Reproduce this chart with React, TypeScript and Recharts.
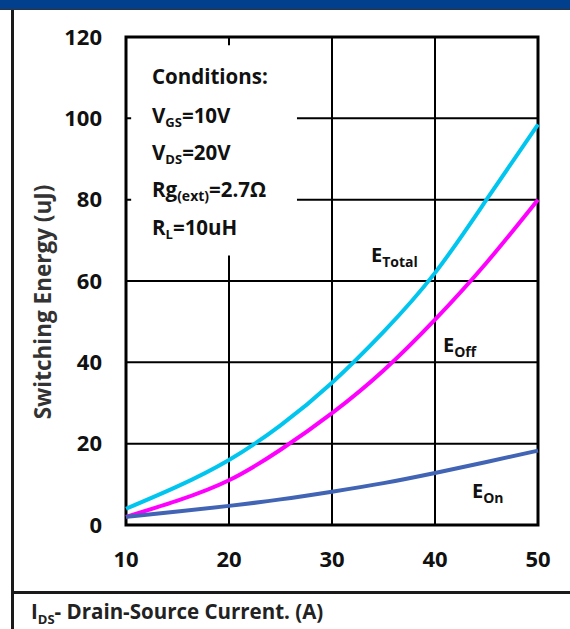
import React from 'react';
import { LineChart, Line, XAxis, YAxis, CartesianGrid, ReferenceArea } from 'recharts';

const currents = [10, 15, 20, 25, 30, 35, 40, 45, 50];
const eTotal = [4, 9.5, 16, 24.5, 35, 47.5, 62, 80, 98.5];
const eOff = [2, 6, 11, 18.5, 27.5, 38, 50.5, 64.5, 80];
const eOn = [2, 3.3, 4.7, 6.3, 8.2, 10.3, 12.8, 15.5, 18.3];
const xTicks = [10, 20, 30, 40, 50];
const yTicks = [0, 20, 40, 60, 80, 100, 120];

const data = currents.map((x, i) => ({ x, eTotal: eTotal[i], eOff: eOff[i], eOn: eOn[i] }));

const FONT = "'Open Sans', 'Noto Sans', sans-serif";

export default function App() {
  return (
    <div style={{ position: 'absolute', left: 0, top: 0, width: 570, height: 629, background: '#fff', overflow: 'hidden', fontFamily: FONT }}>
      <div style={{ position: 'absolute', left: 0, top: 0, width: 570, height: 9, background: '#02408E', borderBottom: '1px solid #333' }} />
      <div style={{ position: 'absolute', left: 11, top: 10, width: 3, height: 619, background: '#1a1a1a' }} />
      <div style={{ position: 'absolute', left: 11, top: 591, width: 559, height: 3, background: '#1a1a1a' }} />
      <div style={{ position: 'absolute', left: 0, top: 0 }}>
        <LineChart width={570} height={629} data={data} margin={{ top: 37, right: 32, bottom: 74, left: 0 }}>
          <CartesianGrid stroke="#000" strokeWidth={2} />
          <XAxis
            dataKey="x"
            type="number"
            domain={[10, 50]}
            ticks={xTicks}
            axisLine={false}
            tickLine={false}
            tickSize={0}
            tickMargin={26}
            height={30}
            tick={{ fill: '#111', fontSize: 22, fontWeight: 700, fontFamily: FONT }}
          />
          <YAxis
            type="number"
            domain={[0, 120]}
            ticks={yTicks}
            axisLine={false}
            tickLine={false}
            tickSize={0}
            tickMargin={24}
            width={126}
            tick={{ fill: '#111', fontSize: 22, fontWeight: 700, fontFamily: FONT }}
          />
          <ReferenceArea x1={10.5} x2={26.6} y1={66.3} y2={118} fill="#fff" fillOpacity={1} stroke="none" />
          <Line type="natural" dataKey="eTotal" stroke="#00C5EF" strokeWidth={4} dot={false} isAnimationActive={false} />
          <Line type="natural" dataKey="eOff" stroke="#FF00FF" strokeWidth={4} dot={false} isAnimationActive={false} />
          <Line type="natural" dataKey="eOn" stroke="#4164B4" strokeWidth={4} dot={false} isAnimationActive={false} />
          <ReferenceArea x1={10} x2={50} y1={0} y2={120} fill="none" stroke="#000" strokeWidth={3} />
        </LineChart>
      </div>
      <svg width={570} height={629} style={{ position: 'absolute', left: 0, top: 0, pointerEvents: 'none' }} fontFamily={FONT} fontWeight={700}>
        <g fill="#111" fontSize={20.5}>
          <text x={152} y={84}>Conditions:</text>
          <text x={152} y={123}>V<tspan fontSize={13} dy={4}>GS</tspan><tspan dy={-4}>=10V</tspan></text>
          <text x={152} y={160}>V<tspan fontSize={13} dy={4}>DS</tspan><tspan dy={-4}>=20V</tspan></text>
          <text x={152} y={197}>Rg<tspan fontSize={14} dy={4}>(ext)</tspan><tspan dy={-4}>=2.7Ω</tspan></text>
          <text x={152} y={235}>R<tspan fontSize={13} dy={4}>L</tspan><tspan dy={-4}>=10uH</tspan></text>
        </g>
        <g fill="#111">
          <text x={371} y={262} fontSize={20}>E<tspan fontSize={14} dy={5}>Total</tspan></text>
          <text x={443} y={352} fontSize={20}>E<tspan fontSize={14} dy={5}>Off</tspan></text>
          <text x={472} y={498} fontSize={20}>E<tspan fontSize={14} dy={5}>On</tspan></text>
        </g>
        <text transform="rotate(-90)" x={-302} y={51} textAnchor="middle" fontSize={22.5} fill="#333">Switching Energy (uJ)</text>
        <text x={31} y={619} fontSize={20.5} fill="#222">I<tspan fontSize={13} dy={5}>DS</tspan><tspan dy={-5}>- Drain-Source Current. (A)</tspan></text>
      </svg>
    </div>
  );
}
